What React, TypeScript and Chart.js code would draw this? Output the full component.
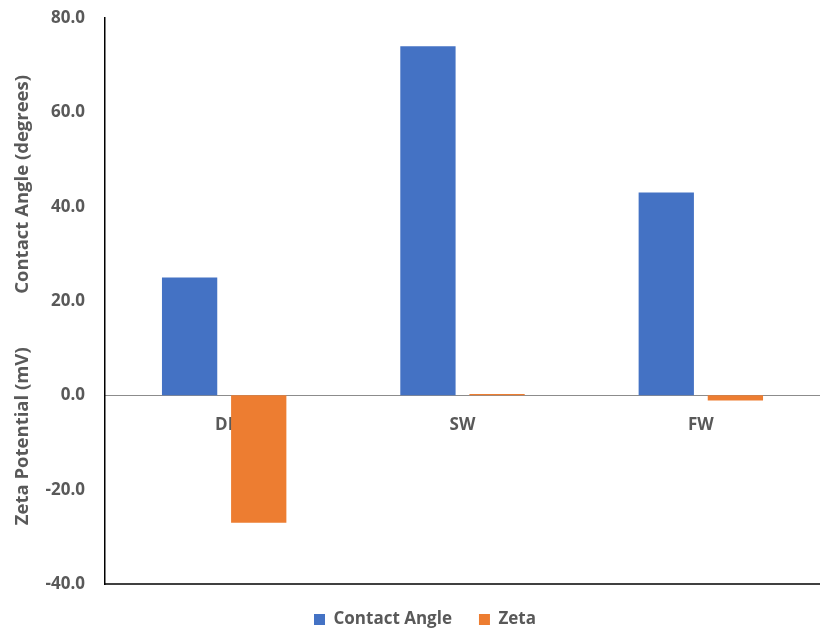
import React, { useEffect, useRef } from "react";
import { Chart, registerables } from "chart.js";

Chart.register(...registerables);

const categories = ["DI", "SW", "FW"];
const contactAngle = [25.0, 74.0, 43.0];
const zeta = [-27.0, 0.3, -1.1];
const yTicks = [-40, -20, 0, 20, 40, 60, 80];
const upperTitle = "Contact Angle (degrees)";
const lowerTitle = "Zeta Potential (mV)";

const FONT = "'Open Sans', Lato, sans-serif";
const GREY = "#595959";

const extrasPlugin = {
  id: "extras",
  afterDraw(chart: any) {
    const { ctx, chartArea } = chart;
    ctx.save();
    // bottom border
    ctx.strokeStyle = "#000";
    ctx.lineWidth = 1.5;
    ctx.beginPath();
    ctx.moveTo(chartArea.left, chartArea.bottom);
    ctx.lineTo(chartArea.right, chartArea.bottom);
    ctx.stroke();
    // two y titles
    ctx.fillStyle = GREY;
    ctx.font = `bold 18.5px ${FONT}`;
    ctx.textAlign = "center";
    ctx.textBaseline = "middle";
    const h = chartArea.bottom - chartArea.top;
    const drawRot = (text: string, y: number) => {
      ctx.save();
      ctx.translate(23, y);
      ctx.rotate(-Math.PI / 2);
      ctx.fillText(text, 0, 0);
      ctx.restore();
    };
    drawRot(upperTitle, chartArea.top + h * 0.294);
    drawRot(lowerTitle, chartArea.top + h * 0.739);
    ctx.restore();
  },
};

export default function App() {
  const ref = useRef<HTMLCanvasElement>(null);
  useEffect(() => {
    document.body.style.margin = "0";
    const chart = new Chart(ref.current!, {
      type: "bar",
      data: {
        labels: categories,
        datasets: [
          {
            label: "Contact Angle",
            data: contactAngle,
            backgroundColor: "#4472C4",
            categoryPercentage: 0.58,
            barPercentage: 0.8,
          },
          {
            label: "Zeta",
            data: zeta,
            backgroundColor: "#ED7D31",
            categoryPercentage: 0.58,
            barPercentage: 0.8,
          },
        ],
      },
      options: {
        animation: false,
        responsive: false,
        maintainAspectRatio: false,
        layout: { padding: { left: 30, top: 18, right: 0, bottom: -9 } },
        plugins: {
          tooltip: { enabled: false },
          legend: {
            position: "bottom",
            labels: {
              boxWidth: 11,
              boxHeight: 11,
              color: GREY,
              font: { family: FONT, size: 17, weight: "bold" },
              padding: 27,
            },
          },
        },
        scales: {
          x: {
            position: { y: 0 } as any,
            grid: { display: false, drawTicks: false },
            border: { display: true, color: "#8c8c8c", width: 1 },
            ticks: {
              color: GREY,
              font: { family: FONT, size: 17, weight: "bold" },
              padding: 20,
            },
          },
          y: {
            min: -40,
            max: 80,
            afterFit: (scale: any) => {
              scale.width = 75;
              scale.paddingTop = 0;
              scale.paddingBottom = 0;
            },
            afterBuildTicks: (scale: any) => {
              scale.ticks = yTicks.map((v) => ({ value: v }));
            },
            grid: { display: false, drawTicks: false },
            border: { display: true, color: "#000", width: 1.5 },
            ticks: {
              color: GREY,
              font: { family: FONT, size: 17, weight: "bold" },
              padding: 20,
              callback: (v: any) => Number(v).toFixed(1),
            },
          },
        },
      },
      plugins: [extrasPlugin],
    });
    return () => chart.destroy();
  }, []);
  return <canvas ref={ref} width={820} height={629} style={{ display: "block" }} />;
}
